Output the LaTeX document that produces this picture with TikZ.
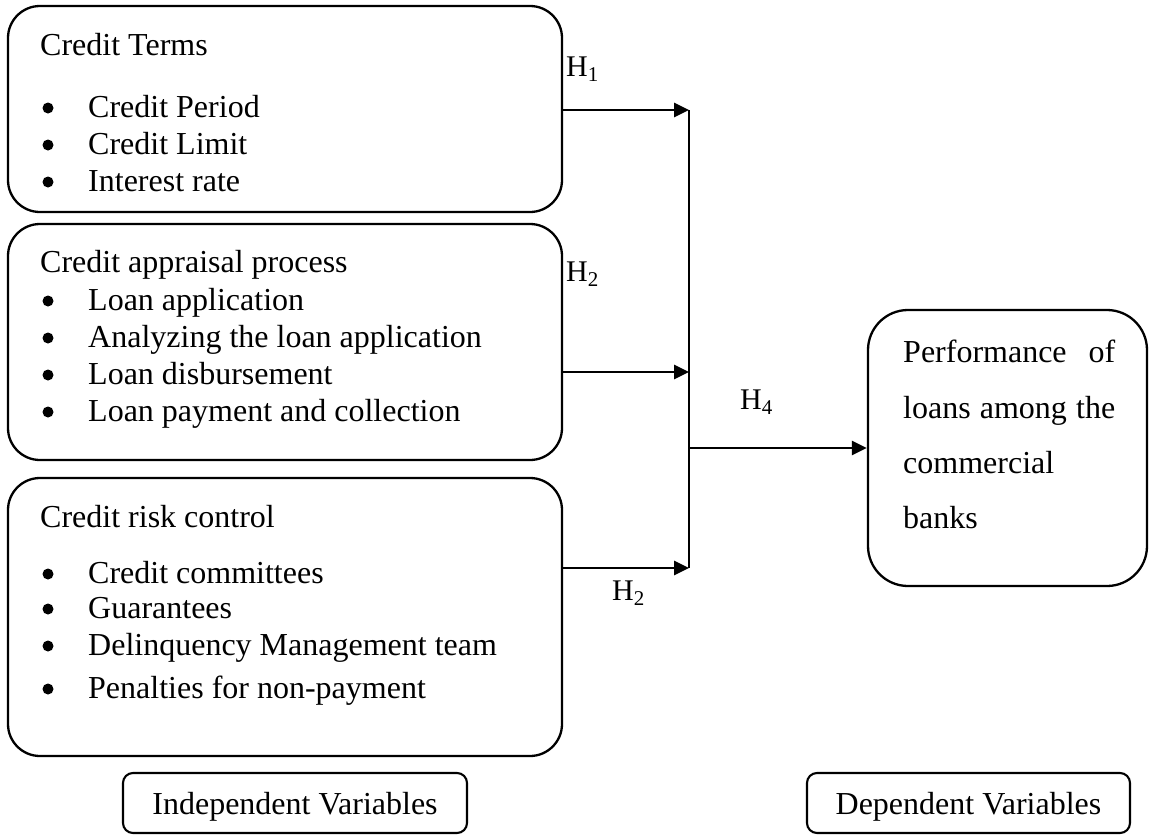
\documentclass[tikz,border=0pt]{standalone}
\usepackage{fontspec}
\setmainfont{Liberation Serif}
\usetikzlibrary{arrows.meta}
\tikzset{
  rbox/.style={draw, line width=2.3pt, rounded corners=32pt, inner sep=0pt},
  sbox/.style={draw, line width=2.1pt, rounded corners=10pt, inner sep=0pt},
  txt/.style={anchor=base west, inner sep=0pt, font=\fontsize{32}{37}\selectfont},
  hlab/.style={anchor=base west, inner sep=0pt, font=\fontsize{30}{36}\selectfont},
  bul/.style={circle, fill, inner sep=0pt, minimum size=11pt},
  arr/.style={line width=2.8pt, -{Triangle[length=15pt,width=14pt]}},
  vline/.style={line width=2.3pt}
}
\begin{document}
\begin{tikzpicture}[x=1pt,y=-1pt]
\useasboundingbox (0,0) rectangle (1151,835);
% boxes
\node[rbox, minimum width=554pt, minimum height=206pt] (terms) at (285,109) {};
\node[rbox, minimum width=554pt, minimum height=236pt] (apprais) at (285,342) {};
\node[rbox, minimum width=554pt, minimum height=278pt] (risk) at (285,617) {};
\node[rbox, rounded corners=40pt, minimum width=279pt, minimum height=276pt] (perf) at (1007.5,448) {};
\node[sbox, minimum width=344pt, minimum height=60pt] (indep) at (295,803) {};
\node[sbox, minimum width=323pt, minimum height=60pt] (dep) at (968.5,803) {};
% box 1 text
\node[txt] (t1) at (40,55) {Credit Terms};
\node[bul] (b11) at (48,108) {};
\node[txt] (t11) at (88,117) {Credit Period};
\node[bul] (b12) at (48,145) {};
\node[txt] (t12) at (88,154) {Credit Limit};
\node[bul] (b13) at (48,182) {};
\node[txt] (t13) at (88,191) {Interest rate};
% box 2 text
\node[txt] (t2) at (40,272) {Credit appraisal process};
\node[bul] (b21) at (48,301) {};
\node[txt] (t21) at (88,310) {Loan application};
\node[bul] (b22) at (48,338) {};
\node[txt] (t22) at (88,347) {Analyzing the loan application};
\node[bul] (b23) at (48,375) {};
\node[txt] (t23) at (88,384) {Loan disbursement};
\node[bul] (b24) at (48,412) {};
\node[txt] (t24) at (88,421) {Loan payment and collection};
% box 3 text
\node[txt] (t3) at (40,527) {Credit risk control};
\node[bul] (b31) at (48,574) {};
\node[txt] (t31) at (88,583) {Credit committees};
\node[bul] (b32) at (48,609) {};
\node[txt] (t32) at (88,618) {Guarantees};
\node[bul] (b33) at (48,646) {};
\node[txt] (t33) at (88,655) {Delinquency Management team};
\node[bul] (b34) at (48,689) {};
\node[txt] (t34) at (88,698) {Penalties for non-payment};
% dependent box text
\node[txt] (p1) at (903,362) {\makebox[212pt][s]{Performance\hfill of}};
\node[txt] (p2) at (903,418) {\makebox[212pt][s]{loans among the}};
\node[txt] (p3) at (903,473) {commercial};
\node[txt] (p4) at (903,528) {banks};
% bottom labels
\node[txt, anchor=base] (il) at (indep.center |- 0,814) {Independent Variables};
\node[txt, anchor=base] (dl) at (dep.center |- 0,814) {Dependent Variables};
% hypothesis labels
\node[hlab] (h1) at (566,76) {H\textsubscript{1}};
\node[hlab] (h2) at (566,281) {H\textsubscript{2}};
\node[hlab] (h3) at (612,600) {H\textsubscript{2}};
\node[hlab] (h4) at (740,409) {H\textsubscript{4}};
% connectors
\coordinate (j1) at (689,110);
\coordinate (j2) at (689,372);
\coordinate (j3) at (689,568);
\coordinate (j4) at (689,448);
\draw[vline] (j1) -- (j3);
\draw[arr] (terms.east |- j1) -- (j1);
\draw[arr] (apprais.east |- j2) -- (j2);
\draw[arr] (risk.east |- j3) -- (j3);
\draw[arr] (j4) -- (perf.west);
\end{tikzpicture}
\end{document}
